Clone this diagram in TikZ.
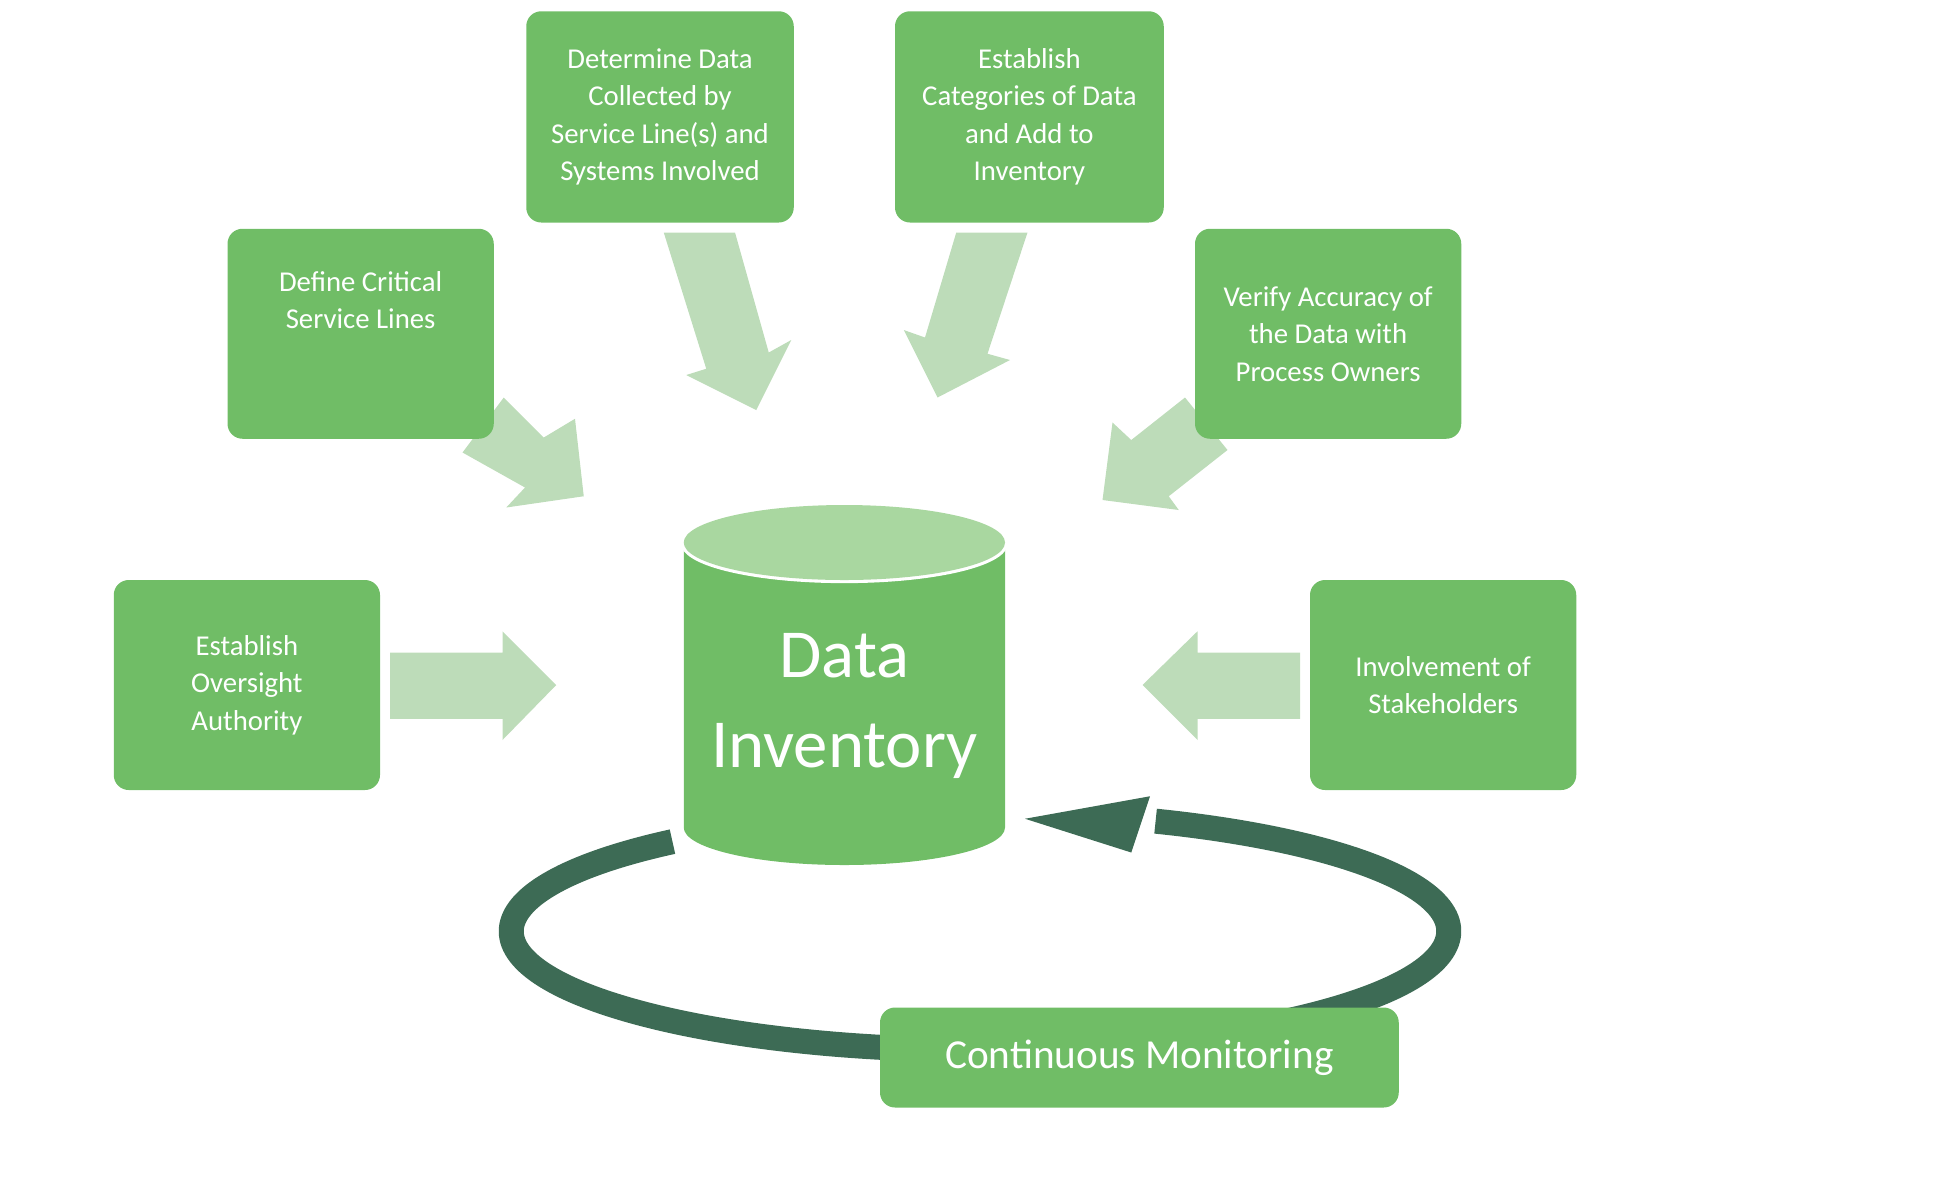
\documentclass[tikz,border=0pt]{standalone}
\usepackage{fontspec}
\setmainfont{Carlito}
\definecolor{boxg}{HTML}{70BD66}
\definecolor{arrg}{HTML}{BDDCB9}
\definecolor{topg}{HTML}{A9D7A0}
\definecolor{darkg}{HTML}{3D6B55}
\begin{document}
\begin{tikzpicture}[x=1pt,y=-1pt,
  box/.style={draw=none,fill=boxg,rounded corners=12pt,text=white,align=center,font=\fontsize{23}{30}\selectfont,inner sep=0pt},
  arr/.style={fill=arrg,draw=none}]
\useasboundingbox (0,0) rectangle (1560,946);
% arrows
\fill[arr] (312,522) -- (402,522) -- (402,505) -- (445,548) -- (402,592) -- (402,575) -- (312,575) -- cycle;
\fill[arr] (1040,522) -- (958,522) -- (958,505) -- (914,548) -- (958,592) -- (958,575) -- (1040,575) -- cycle;
\fill[arr] (403,318) -- (435,350) -- (460,335) -- (467,397) -- (405,406) -- (420,390) -- (370,362) -- cycle;
\fill[arr] (948,318) -- (905,352) -- (890,338) -- (882,400) -- (943,408) -- (935,397) -- (982,360) -- cycle;
\fill[arr] (531,186) -- (588,186) -- (615,282) -- (633,272) -- (605,328) -- (549,300) -- (565,295) -- cycle;
\fill[arr] (765,186) -- (822,186) -- (790,283) -- (808,288) -- (750,318) -- (723,264) -- (740,270) -- cycle;
% boxes
\node[box,minimum width=214pt,minimum height=169pt] (det) at (528,93.5) {Determine Data\\Collected by\\Service Line(s) and\\Systems Involved};
\node[box,minimum width=215pt,minimum height=169pt] (cat) at (823.5,93.5) {Establish\\Categories of Data\\and Add to\\Inventory};
\node[box,minimum width=213pt,minimum height=168pt,text depth=0pt] (def) at (288.5,267) {\raisebox{22pt}{}Define Critical\\Service Lines\\[30pt]};
\node[box,minimum width=213pt,minimum height=168pt] (ver) at (1062.5,267) {Verify Accuracy of\\the Data with\\Process Owners};
\node[box,minimum width=213pt,minimum height=168pt] (ovr) at (197.5,548) {Establish\\Oversight\\Authority};
\node[box,minimum width=213pt,minimum height=168pt] (inv) at (1154.5,548) {Involvement of\\Stakeholders};
% cycle arrow
\draw[darkg,line width=20pt] (784,745) ++(131:375 and -95) arc[start angle=131,end angle=428,x radius=375,y radius=-95];
\fill[darkg] (920,637) -- (820,655) -- (905,682) -- cycle;
\node[box,minimum width=415pt,minimum height=80pt,font=\fontsize{33}{40}\selectfont] (mon) at (911.5,846) {Continuous Monitoring};
% cylinder
\fill[boxg] (547,434) -- (547,662) arc[start angle=180,end angle=360,x radius=128.5,y radius=-30] -- (804,434) -- cycle;
\draw[white,line width=5pt] (547,434) arc[start angle=180,end angle=360,x radius=128.5,y radius=-30];
\fill[topg] (675.5,434) ellipse[x radius=128.5,y radius=30];
\node[text=white,align=center,font=\fontsize{55}{72}\selectfont] (di) at (675.5,565) {Data\\Inventory};
\end{tikzpicture}
\end{document}
